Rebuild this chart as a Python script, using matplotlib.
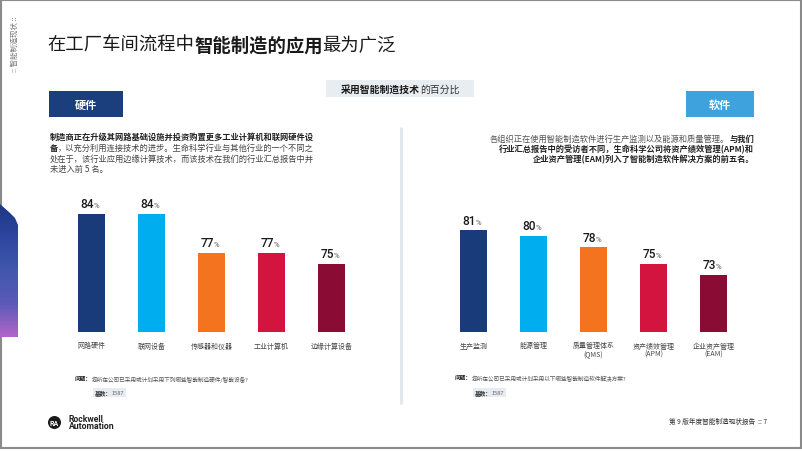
import matplotlib
matplotlib.use("Agg")
import matplotlib.pyplot as plt
import numpy as np
from matplotlib.patches import Rectangle, Polygon, Circle
from matplotlib.colors import LinearSegmentedColormap

plt.rcParams['font.family'] = ['Noto Sans CJK SC', 'DejaVu Sans']

# ---------------- data ----------------
hw_categories = ["网路硬件", "联网设备", "传感器和仪器", "工业计算机", "边缘计算设备"]
hw_values = [84, 84, 77, 77, 75]
sw_categories = ["生产监测", "能源管理", "质量管理体系\n(QMS)", "资产绩效管理\n(APM)", "企业资产管理\n(EAM)"]
sw_values = [81, 80, 78, 75, 73]
bar_colors = ["#193b7a", "#00aeef", "#f3731f", "#d3143f", "#8a0b33"]

title_parts = [("在工厂车间流程中", "normal"), ("智能制造的应用", "bold"), ("最为广泛", "normal")]
subtitle_parts = [("采用智能制造技术", "bold"), ("的百分比", "normal")]
hw_text = [
    [("制造商正在升级其网路基础设施并投资购置更多工业计算机和联网硬件设", "bold")],
    [("备", "bold"), ("，以充分利用连接技术的进步。生命科学行业与其他行业的一个不同之", "normal")],
    [("处在于，该行业应用边缘计算技术，而该技术在我们的行业汇总报告中并", "normal")],
    [("未进入前 5 名。", "normal")],
]
sw_text = [
    [("各组织正在使用智能制造软件进行生产监测以及能源和质量管理。", "normal"), ("与我们", "bold")],
    [("行业汇总报告中的受访者不同，生命科学公司将资产绩效管理(APM)和", "bold")],
    [("企业资产管理(EAM)列入了智能制造软件解决方案的前五名。", "bold")],
]
hw_question = "您所在公司已采用或计划采用下列哪些智能制造硬件/智能设备?"
sw_question = "您所在公司已采用或计划采用以下哪些智能制造软件解决方案?"
base_n = "1587"

W, H = 802, 452
fig = plt.figure(figsize=(W / 100, H / 100), dpi=100)
fig.patch.set_facecolor("white")

bg = fig.add_axes([0, 0, 1, 1], zorder=5)
bg.set_xlim(0, W)
bg.set_ylim(H, 0)
bg.axis("off")
bg.patch.set_alpha(0)

renderer = fig.canvas.get_renderer()


def runs(x, y, parts, size, ha="left", va="center", color="#333333", bold_color=None, family=None):
    texts = []
    widths = []
    for s, wgt in parts:
        kw = dict(fontsize=size, va=va, ha="left", fontweight=wgt,
                  color=(bold_color if (wgt == "bold" and bold_color) else color))
        if family:
            kw["family"] = family
        t = bg.text(0, y, s, **kw)
        texts.append(t)
        widths.append(t.get_window_extent(renderer).width)
    total = sum(widths)
    start = x if ha == "left" else (x - total / 2 if ha == "center" else x - total)
    cur = start
    for t, w in zip(texts, widths):
        t.set_x(cur)
        cur += w
    return texts


# frame
bg.add_patch(Rectangle((0.5, 0.5), 800, 448.5, fill=False, ec="#8a8a8a", lw=1.5))

# left gradient decoration
poly = Polygon([(0, 205), (0, 338), (18, 338), (18, 226), (15, 219), (10, 214)],
               closed=True, fc="none", ec="none")
bg.add_patch(poly)
grad = np.linspace(0, 1, 100).reshape(-1, 1)
cmap = LinearSegmentedColormap.from_list("g", ["#1c3784", "#2e47a0", "#4257ad", "#5a5ab8", "#b066c8"])
im = bg.imshow(grad, extent=(0, 18, 338, 205), aspect="auto", cmap=cmap, zorder=1)
im.set_clip_path(poly)

# side vertical label
bg.text(15, 44, ":: 智能制造现状 ::", rotation=90, fontsize=5.3, color="#777777",
        ha="center", va="center")

# title
runs(47, 46, title_parts, 13.2, color="#1a1a1a")

# subtitle box
bg.add_patch(Rectangle((326, 81), 148, 17, fc="#e8edf2", ec="none"))
runs(400, 89.5, subtitle_parts, 7.1, ha="center", color="#333333", bold_color="#1a1a1a")

# section boxes
bg.add_patch(Rectangle((49, 92), 74, 26, fc="#1b3f7c", ec="none"))
bg.text(86, 105, "硬件", fontsize=8, fontweight="bold", color="white", ha="center", va="center")
bg.add_patch(Rectangle((686, 92), 68, 26, fc="#3ea3dc", ec="none"))
bg.text(720, 105, "软件", fontsize=8, fontweight="bold", color="white", ha="center", va="center")

# paragraphs
for i, line in enumerate(hw_text):
    runs(50, 137.5 + i * 10.7, line, 5.95, color="#444444", bold_color="#222222")
for i, line in enumerate(sw_text):
    runs(754, 139 + i * 10.5, line, 5.95, ha="right", color="#555555", bold_color="#222222")

# divider
bg.plot([401, 401], [128, 405], color="#dfe7ee", lw=2, solid_capstyle="butt")

# bar charts
ybot, ytop = 333, 190
ylo = 62.66
yhi = ylo + (ybot - ytop) / 5.54


def bar_chart(x_left, cats, vals):
    ax = fig.add_axes([x_left / W, (H - ybot) / H, 300 / W, (ybot - ytop) / H], zorder=1)
    ax.patch.set_alpha(0)
    xs = np.arange(len(vals))
    ax.bar(xs, vals, width=0.45, color=bar_colors, bottom=0)
    ax.set_xlim(-0.5, len(vals) - 0.5)
    ax.set_ylim(ylo, yhi)
    ax.axis("off")
    inv = bg.transData.inverted()
    for i, (c, v) in enumerate(zip(cats, vals)):
        px, py = inv.transform(ax.transData.transform((i, v)))
        ts = runs(px, py - 6.5, [(f"{v}", "medium"), ("%", "normal")], 8.6, ha="center",
                  va="baseline", color="#1a1a1a", family=["Roboto", "DejaVu Sans"])
        ts[1].set_fontsize(5.6)
        ts[1].set_color("#555555")
        bx, by = inv.transform(ax.transData.transform((i, ylo)))
        for j, ln in enumerate(c.split("\n")):
            bg.text(px, by + 13.5 + j * 8.5, ln, fontsize=5.0, color="#444444",
                    ha="center", va="center")
    return ax


bar_chart(61.5, hw_categories, hw_values)
bar_chart(443.5, sw_categories, sw_values)

# questions and base boxes
runs(75, 379.5, [("问题：", "bold"), (hw_question, "normal")], 4.1, color="#555555", bold_color="#222222")
runs(455, 378.5, [("问题：", "bold"), (sw_question, "normal")], 4.1, color="#555555", bold_color="#222222")
for bx in (93, 473):
    bg.add_patch(Rectangle((bx, 389), 33, 8.5, fc="#e6ecf2", ec="none"))
    runs(bx + 16.5, 393.2, [("基数：", "bold"), (base_n, "normal")], 4.1, ha="center",
         color="#666666", bold_color="#333333")

# logo
bg.add_patch(Circle((54.5, 423.5), 6.5, fc="#1a1a1a", ec="none"))
bg.text(54.5, 423.7, "RA", fontsize=5, fontweight="bold", color="white", ha="center", va="center",
        family=["Roboto", "DejaVu Sans"])
bg.text(68.5, 423, "Rockwell\nAutomation", fontsize=6.2, fontweight="bold", color="#222222",
        ha="left", va="center", linespacing=0.85, family=["Roboto", "DejaVu Sans"])

# footer
bg.text(767, 422, "第 9 版年度智能制造现状报告  :: 7", fontsize=4.8, color="#333333",
        ha="right", va="center")

fig.savefig("out.png", dpi=100, facecolor="white")
